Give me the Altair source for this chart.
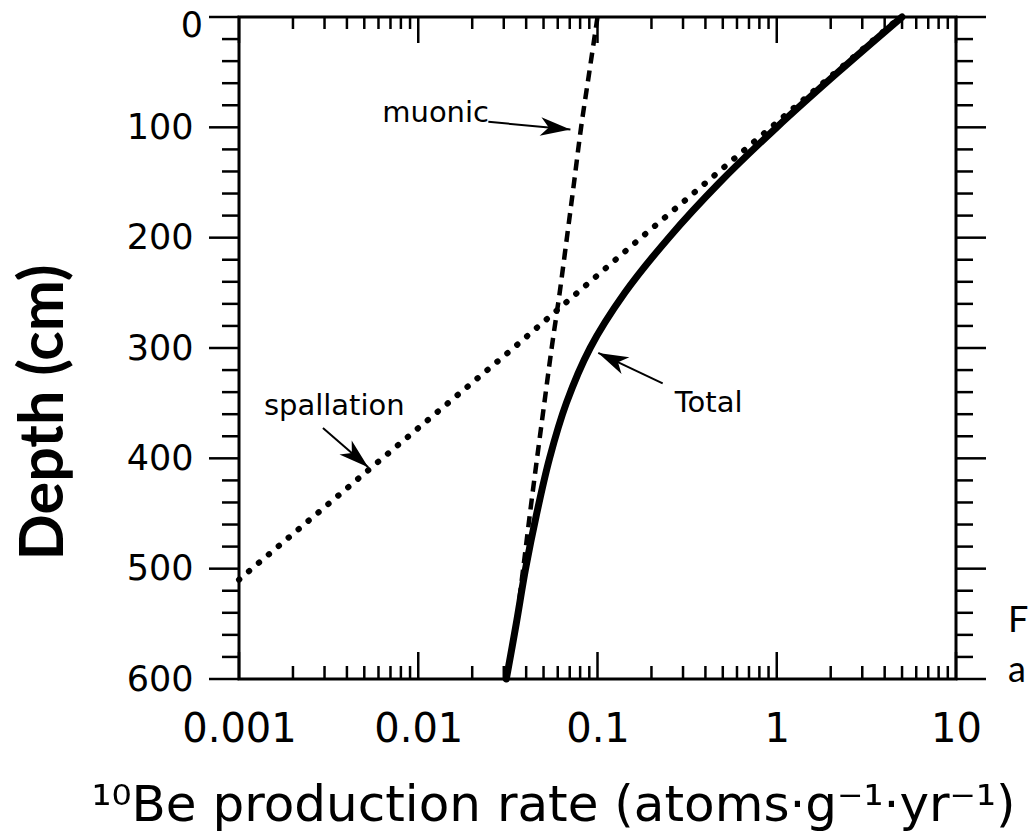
import altair as alt
import pandas as pd

# ---- data ----
# Total production (solid)
total_depth = [0, 50, 100, 150, 200, 250, 300, 350, 400, 450, 500, 550, 600]
total_rate = [5.0, 2.2, 1.0, 0.48, 0.25, 0.142, 0.091, 0.067, 0.054, 0.0458, 0.0397, 0.0352, 0.031]
# Spallation (dotted)
spall_depth = [0, 100, 200, 300, 400, 500, 510]
spall_rate = [4.9, 0.93, 0.175, 0.034, 0.0063, 0.00118, 0.001]
# Muonic (dashed)
muon_depth = [0, 50, 100, 150, 200, 250, 300, 350, 400, 450, 500, 530]
muon_rate = [0.1, 0.090, 0.081, 0.074, 0.0675, 0.0615, 0.0555, 0.0505, 0.046, 0.042, 0.0385, 0.0365]

# axis ticks
x_major = [0.001, 0.01, 0.1, 1, 10]
x_mantissa = [2, 3, 4, 5, 6, 7, 8, 9]
x_decades = [0.001, 0.01, 0.1, 1]
y_major = [0, 100, 200, 300, 400, 500, 600]
y_minor_step = 20

# annotations (data coordinates)
ann_label = ["muonic", "spallation", "Total"]
ann_rate = [0.0125, 0.0034, 0.417]
ann_depth = [87, 353, 350]
arrow_from_rate = [0.0246, 0.00294, 0.231]
arrow_from_depth = [95, 372.5, 332]
arrow_to_rate = [0.0706, 0.00526, 0.101]
arrow_to_depth = [102, 408, 304.5]
arrow_angle = [5.6, 41, 205]

W, H = 717, 662

x_minor = [round(m * d, 6) for d in x_decades for m in x_mantissa]
y_minor = [v for v in range(0, 601, y_minor_step) if v % 100 != 0]

df_total = pd.DataFrame({"rate": total_rate, "depth": total_depth})
df_spall = pd.DataFrame({"rate": spall_rate, "depth": spall_depth})
df_muon = pd.DataFrame({"rate": muon_rate, "depth": muon_depth})
df_xmaj = pd.DataFrame({"rate": x_major})
df_xmin = pd.DataFrame({"rate": x_minor})
df_ymaj = pd.DataFrame({"depth": y_major})
df_ymin = pd.DataFrame({"depth": y_minor})
df_ann = pd.DataFrame({"label": ann_label, "rate": ann_rate, "depth": ann_depth})
df_arrow = pd.DataFrame({
    "rate": arrow_from_rate, "depth": arrow_from_depth,
    "r1": arrow_to_rate, "d1": arrow_to_depth,
})
df_zero = pd.DataFrame({"depth": [y_major[0]], "lab": [str(y_major[0])]})

xs = alt.Scale(type="log", domain=[0.001, 10], nice=False)
ys = alt.Scale(domain=[0, 600], reverse=True, nice=False)

xtitle = "¹⁰Be production rate (atoms·g⁻¹·yr⁻¹)"

x_axis = alt.Axis(
    values=x_major, format="~g", ticks=False, domain=False, grid=False,
    labelFont="DejaVu Sans", labelFontSize=40, labelColor="black",
    labelPadding=30, labelFlush=False, labelOverlap=False,
    title=xtitle, titleFont="DejaVu Sans", titleFontSize=50, titleFontWeight="normal",
    titleColor="black", titleX=314, titleY=141, titleAlign="center",
    titleBaseline="alphabetic",
)
y_axis = alt.Axis(
    values=y_major[1:], ticks=False, domain=False, grid=False,
    labelFont="DejaVu Sans", labelFontSize=35, labelColor="black",
    labelPadding=46, labelFlush=False, labelOverlap=False,
    title="Depth (cm)", titleFont="Lato", titleFontSize=61, titleFontWeight="bold",
    titleColor="black", titleX=-177, titleY=395, titleAngle=270,
    titleAlign="center", titleBaseline="alphabetic",
)


def X(f="rate"):
    return alt.X(f"{f}:Q", scale=xs, axis=x_axis, title=xtitle)


def Y(f="depth"):
    return alt.Y(f"{f}:Q", scale=ys, axis=y_axis, title="Depth (cm)")


spall = alt.Chart(df_spall).mark_line(
    color="black", strokeWidth=6, strokeDash=[0.5, 12.5], strokeCap="round",
    interpolate="linear",
).encode(x=X(), y=Y(), order=alt.Order("rate:Q"))

muon = alt.Chart(df_muon).mark_line(
    color="black", strokeWidth=4.5, strokeDash=[11, 7], interpolate="catmull-rom",
).encode(x=X(), y=Y(), order=alt.Order("depth:Q"))

total = alt.Chart(df_total).mark_line(
    color="black", strokeWidth=7, interpolate="catmull-rom", strokeCap="round",
).encode(x=X(), y=Y(), order=alt.Order("depth:Q"))

tw = 2.5
# x ticks: inward on bottom and top
xt = []
for df, ln in [(df_xmin, 13), (df_xmaj, 27)]:
    xt.append(alt.Chart(df).mark_rule(color="black", strokeWidth=tw).encode(
        x=X(), y=alt.value(H), y2=alt.value(H - ln)))
    xt.append(alt.Chart(df).mark_rule(color="black", strokeWidth=tw).encode(
        x=X(), y=alt.value(0), y2=alt.value(ln - 1)))
# y ticks: outward on left and right
yt = []
for df, ln in [(df_ymin, 17), (df_ymaj, 30)]:
    yt.append(alt.Chart(df).mark_rule(color="black", strokeWidth=tw).encode(
        y=Y(), x=alt.value(0), x2=alt.value(-ln)))
    yt.append(alt.Chart(df).mark_rule(color="black", strokeWidth=tw).encode(
        y=Y(), x=alt.value(W), x2=alt.value(W + ln)))

# top "0" label sits a little lower than its tick, as in the original
zero_lab = alt.Chart(df_zero).mark_text(
    font="DejaVu Sans", fontSize=35, align="right", baseline="middle", color="black", dy=9,
).encode(y=Y(), x=alt.value(-36), text="lab:N")

ann_text = alt.Chart(df_ann).mark_text(
    font="DejaVu Sans", fontSize=29, align="center", baseline="middle", color="black",
).encode(x=X(), y=Y(), text="label:N")

shafts = alt.Chart(df_arrow).mark_rule(color="black", strokeWidth=2).encode(
    x=X(), y=Y(), x2="r1:Q", y2="d1:Q")

head_path = "M0,0 L-2,-0.62 L-1.45,0 L-2,0.62 Z"
heads = []
for i in range(len(arrow_angle)):
    dfi = pd.DataFrame({"rate": [arrow_to_rate[i]], "depth": [arrow_to_depth[i]]})
    heads.append(alt.Chart(dfi).mark_point(
        shape=head_path, size=900, filled=True, color="black", opacity=1,
        angle=arrow_angle[i], strokeWidth=0,
    ).encode(x=X(), y=Y()))

cap_F = alt.Chart(pd.DataFrame({"t": ["F"]})).mark_text(
    font="Lato", fontSize=36, align="left", baseline="alphabetic", color="black",
).encode(text="t:N", x=alt.value(769), y=alt.value(615))
cap_a = alt.Chart(pd.DataFrame({"t": ["a"]})).mark_text(
    font="Lato", fontSize=36, align="left", baseline="alphabetic", color="black",
).encode(text="t:N", x=alt.value(769), y=alt.value(665))

chart = alt.layer(
    spall, muon, total, *xt, *yt, zero_lab, ann_text, shafts, *heads, cap_F, cap_a
).properties(
    width=W, height=H,
    autosize=alt.AutoSizeParams(type="none"),
    padding={"left": 239, "top": 17, "right": 76, "bottom": 156},
    background="white",
).configure_view(stroke="black", strokeWidth=3)

chart.save("out.html", embed_options={"renderer": "svg", "actions": False})
